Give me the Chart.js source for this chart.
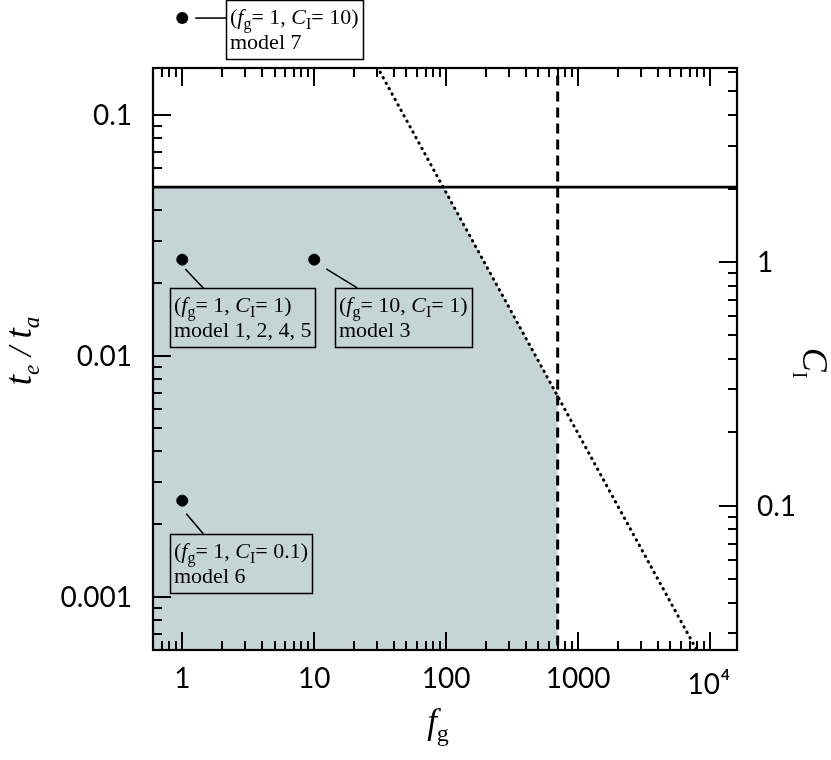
<!DOCTYPE html>
<html>
<head>
<meta charset="utf-8">
<script src="https://cdn.jsdelivr.net/npm/chart.js@4.4.1/dist/chart.umd.min.js"></script>
<style>
  html, body { margin: 0; padding: 0; background: #fff; }
</style>
</head>
<body>
<canvas id="myChart" width="831" height="760"></canvas>
<script>
// axis ranges: f_g on x, t_e/t_a on left y; right axis is C_I = 40 * t_e/t_a
const xRange = [0.625, 16000];
const yRange = [0.000641, 0.156];
const ciFactor = 40;

// tick labels
const xMajor = [1, 10, 100, 1000, 10000];
const xLabels = ['1', '10', '100', '1000', '10^4'];
const yMajor = [0.1, 0.01, 0.001];
const yLabels = ['0.1', '0.01', '0.001'];
const ciMajor = [1, 0.1];
const ciLabels = ['1', '0.1'];

// models (f_g, C_I)
const modelFg = [1, 10, 1, 1];
const modelCI = [1, 1, 0.1, 10];
const modelNames = ['model 1, 2, 4, 5', 'model 3', 'model 6', 'model 7'];

// limits
const teLimit = 0.05;            // solid horizontal line
const fgLimit = 700;             // dashed vertical line
const dotFg = [30, 8000];        // dotted line, t_e/t_a ~ 4.75 / f_g
const dotTe = [0.158, 0.000594];
const shadeFg = [0.5, 95, 700, 700];
const shadeTe = [0.05, 0.05, 0.00679, 0.0001];

const colors = {
    shade: 'rgb(197, 212, 212)',
    ink: '#000'
};

const serif = "'Liberation Serif', 'Times New Roman', serif";
const sans = "Lato, 'DejaVu Sans', sans-serif";

// where each label box sits relative to its point (pixels), and its leader line
const boxLayout = [
    { dx: -12, dy: 26, lead: [3, 7, 21, 26] },
    { dx: 21, dy: 26, lead: [12, 7, 43, 26] },
    { dx: -12, dy: 28, lead: [4, 8, 21, 28] },
    { dx: 44, dy: -18, lead: [13, 0, 44, 0] }
];

function pts(xs, ys) {
    return xs.map((x, i) => ({ x: x, y: ys[i] }));
}

function tickList(lo, hi) {
    const out = [];
    for (let e = Math.floor(Math.log10(lo)); e <= Math.ceil(Math.log10(hi)); e++) {
        for (let m = 1; m < 10; m++) {
            const v = m * Math.pow(10, e);
            if (v > lo * 1.0001 && v < hi / 1.0001) out.push({ v: v, major: m === 1 });
        }
    }
    return out;
}

// draws text pieces one after another: [text, font, dy]
function richText(ctx, x, y, parts, measureOnly) {
    let cx = x;
    for (const p of parts) {
        ctx.font = p[1];
        if (!measureOnly) ctx.fillText(p[0], cx, y + (p[2] || 0));
        cx += ctx.measureText(p[0]).width;
    }
    return cx - x;
}

const axesPlugin = {
    id: 'axesPlugin',
    afterDatasetsDraw(chart) {
        const ctx = chart.ctx;
        const a = chart.chartArea;
        const xs = chart.scales.x, ys = chart.scales.y, cs = chart.scales.y2;
        const MAJ = 18, MIN = 9;

        ctx.save();
        ctx.strokeStyle = colors.ink;
        ctx.fillStyle = colors.ink;

        // ticks
        ctx.lineWidth = 2;
        ctx.beginPath();
        tickList(xRange[0], xRange[1]).forEach(t => {
            const px = Math.round(xs.getPixelForValue(t.v));
            const len = t.major ? MAJ : MIN;
            ctx.moveTo(px, a.bottom); ctx.lineTo(px, a.bottom - len);
            ctx.moveTo(px, a.top); ctx.lineTo(px, a.top + len);
        });
        tickList(yRange[0], yRange[1]).forEach(t => {
            const py = Math.round(ys.getPixelForValue(t.v));
            const len = t.major ? MAJ : MIN;
            ctx.moveTo(a.left, py); ctx.lineTo(a.left + len, py);
        });
        tickList(yRange[0] * ciFactor, yRange[1] * ciFactor).forEach(t => {
            const py = Math.round(cs.getPixelForValue(t.v));
            const len = t.major ? MAJ : MIN;
            ctx.moveTo(a.right, py); ctx.lineTo(a.right - len, py);
        });
        ctx.stroke();

        // frame
        ctx.lineWidth = 2.2;
        ctx.strokeRect(a.left, a.top, a.right - a.left, a.bottom - a.top);

        // model points that fall outside the plot area (C_I = 10)
        modelFg.forEach((fg, i) => {
            const px = xs.getPixelForValue(fg);
            const py = cs.getPixelForValue(modelCI[i]);
            if (py < a.top || py > a.bottom) {
                ctx.beginPath();
                ctx.arc(px, py, 6, 0, Math.PI * 2);
                ctx.fill();
            }
        });

        // tick labels
        ctx.textBaseline = 'middle';
        xMajor.forEach((v, i) => {
            const px = xs.getPixelForValue(v);
            const lab = xLabels[i];
            if (lab.indexOf('^') > 0) {
                const [b, e] = lab.split('^');
                ctx.textAlign = 'left';
                ctx.font = '28px ' + sans;
                const wb = ctx.measureText(b).width;
                ctx.font = 'bold 15px ' + sans;
                const we = ctx.measureText(e).width;
                const x0 = px - (wb + we) / 2 - 2;
                ctx.font = '28px ' + sans;
                ctx.fillText(b, x0, a.bottom + 35);
                ctx.font = 'bold 15px ' + sans;
                ctx.fillText(e, x0 + wb + 1, a.bottom + 25);
            } else {
                ctx.textAlign = 'center';
                ctx.font = '28px ' + sans;
                ctx.fillText(lab, px, a.bottom + 29);
            }
        });
        ctx.font = '28px ' + sans;
        ctx.textAlign = 'right';
        yMajor.forEach((v, i) => {
            ctx.fillText(yLabels[i], a.left - 21, ys.getPixelForValue(v) + 1);
        });
        ctx.textAlign = 'left';
        ciMajor.forEach((v, i) => {
            ctx.fillText(ciLabels[i], a.right + 20, cs.getPixelForValue(v) + 1);
        });

        // axis titles
        ctx.textBaseline = 'alphabetic';
        ctx.textAlign = 'left';
        const it = 'italic 35px ' + serif;
        // bottom: f_g
        const botParts = [['f', it], ['g', '24px ' + serif, 8]];
        let w = richText(ctx, 0, 0, botParts, true);
        richText(ctx, 438 - w / 2, 733, botParts);
        // left: t_e / t_a
        const leftParts = [['t', 'italic 37px ' + serif], ['e', 'italic 23px ' + serif, 8], [' / ', 'italic 34px ' + serif], ['t', 'italic 37px ' + serif], ['a', 'italic 23px ' + serif, 8]];
        w = richText(ctx, 0, 0, leftParts, true);
        ctx.save();
        ctx.translate(31, 351);
        ctx.rotate(-Math.PI / 2);
        richText(ctx, -w / 2, 0, leftParts);
        ctx.restore();
        // right: C_I
        const rightParts = [['C', 'italic 36px ' + serif], ['I', '20px ' + serif, 10]];
        w = richText(ctx, 0, 0, rightParts, true);
        ctx.save();
        ctx.translate(803, 363);
        ctx.rotate(Math.PI / 2);
        richText(ctx, -w / 2, 0, rightParts);
        ctx.restore();

        // model label boxes
        const rf = '22px ' + serif, itf = 'italic 22px ' + serif, sf = '16px ' + serif;
        modelFg.forEach((fg, i) => {
            const px = xs.getPixelForValue(fg);
            const py = cs.getPixelForValue(modelCI[i]);
            const L = boxLayout[i];
            const line1 = [['(', rf], ['f', itf], ['g', sf, 5], ['= ' + fg + ', ', rf], ['C', itf], ['I', sf, 5], ['= ' + modelCI[i] + ')', rf]];
            const w1 = richText(ctx, 0, 0, line1, true);
            ctx.font = rf;
            const w2 = ctx.measureText(modelNames[i]).width;
            const bx = Math.round(px + L.dx) + 0.5, by = Math.round(py + L.dy) + 0.5;
            const bw = Math.round(Math.max(w1, w2) + 8), bh = 59;
            ctx.lineWidth = 1.5;
            ctx.strokeRect(bx, by, bw, bh);
            richText(ctx, bx + 3.5, by + 23, line1);
            ctx.font = rf;
            ctx.fillText(modelNames[i], bx + 3.5, by + 48);
            ctx.lineWidth = 1.6;
            ctx.beginPath();
            ctx.moveTo(px + L.lead[0], py + L.lead[1]);
            ctx.lineTo(px + L.lead[2], py + L.lead[3]);
            ctx.stroke();
        });
        ctx.restore();
    }
};

const ctx = document.getElementById('myChart').getContext('2d');

// higher order is drawn first: shade at the bottom, points on top
const data = {
    datasets: [
        {
            data: pts(shadeFg, shadeTe),
            showLine: true,
            fill: 'start',
            backgroundColor: colors.shade,
            borderWidth: 0,
            pointRadius: 0,
            order: 10
        },
        {
            data: pts([0.5, 20000], [teLimit, teLimit]),
            showLine: true,
            borderColor: colors.ink,
            borderWidth: 2.6,
            pointRadius: 0,
            order: 5
        },
        {
            data: pts([fgLimit, fgLimit], [0.0001, 1]),
            showLine: true,
            borderColor: colors.ink,
            borderWidth: 3,
            borderDash: [10, 6],
            pointRadius: 0,
            order: 5
        },
        {
            data: pts(dotFg, dotTe),
            showLine: true,
            borderColor: colors.ink,
            borderWidth: 3,
            borderDash: [0.4, 5.8],
            borderCapStyle: 'round',
            pointRadius: 0,
            order: 5
        },
        {
            data: pts(modelFg, modelCI.map(c => c / ciFactor)),
            showLine: false,
            backgroundColor: colors.ink,
            borderColor: colors.ink,
            pointRadius: 5.5,
            borderWidth: 1,
            clip: false,
            order: 0
        }
    ]
};

const myChart = new Chart(ctx, {
    type: 'scatter',
    data: data,
    options: {
        responsive: false,
        animation: false,
        devicePixelRatio: 1,
        layout: { padding: { left: 153, right: 94, top: 68, bottom: 110 } },
        plugins: { legend: { display: false }, tooltip: { enabled: false } },
        scales: {
            x: { type: 'logarithmic', min: xRange[0], max: xRange[1], display: false },
            y: { type: 'logarithmic', min: yRange[0], max: yRange[1], display: false },
            y2: { type: 'logarithmic', position: 'right', min: yRange[0] * ciFactor, max: yRange[1] * ciFactor, display: false }
        }
    },
    plugins: [axesPlugin]
});
</script>
</body>
</html>
